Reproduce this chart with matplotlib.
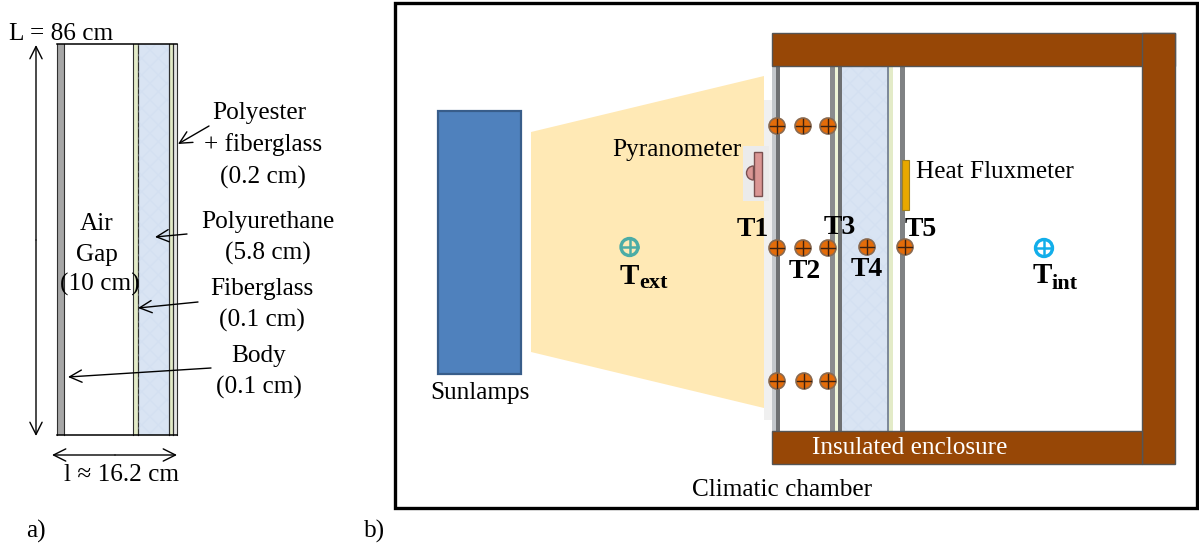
import matplotlib
matplotlib.use("Agg")
import matplotlib.pyplot as plt
from matplotlib.patches import Rectangle, Polygon, Ellipse, Wedge

W, H = 1199, 544
SERIF = "Liberation Serif"
FS = 18.2

# Left panel: wall layers as (x0, x1, fill)
left_top, left_bottom = 44, 435
left_layers = [(57, 63.5, "#A6A6A6"), (132.5, 137.5, "#E3EBC8"), (137.5, 169, "#D9E4F3"),
               (169, 173, "#E3EBC8"), (173, 177, "#E6E6E6")]
left_texts = [("L = 86 cm", 61, 32), ("Polyester", 259, 111), ("+ fiberglass", 263, 143),
              ("(0.2 cm)", 263, 175), ("Polyurethane", 268, 220), ("(5.8 cm)", 268, 251),
              ("Air", 97, 222), ("Gap", 97, 253), ("(10 cm)", 100, 282),
              ("Fiberglass", 262, 287), ("(0.1 cm)", 262, 318), ("Body", 259, 354),
              ("(0.1 cm)", 259, 385), ("l ≈ 16.2 cm", 121, 473), ("a)", 36, 529), ("b)", 375, 529)]
left_arrows = [((209, 126), (178, 144)), ((187, 234), (155, 237)),
               ((198, 302), (138, 308)), ((211, 368), (68, 377))]

# Right panel
right_texts = [("Pyranometer", 677, 148), ("Heat Fluxmeter", 995, 170), ("Sunlamps", 480, 391),
               ("Climatic chamber", 782, 488)]
sensor_x = [777, 803, 828, 777, 803, 828, 867, 905, 777, 804, 828]
sensor_y = [126, 126, 126, 248, 248, 248, 247, 247, 381, 381, 381]
t_labels = [("T1", 753, 228), ("T2", 805, 271), ("T3", 840, 227), ("T4", 867, 269), ("T5", 921, 229)]
wall_layers = [(772, 776, "#C4C8CC"), (776, 779.5, "#6E7072"), (830, 835, "#8A8C8E"),
               (835, 838, "#EEF5D8"), (838, 841.5, "#6E7072"), (841.5, 887, "#D9E4F3"),
               (887, 888.5, "#7E8A9A"), (888.5, 893, "#E3EBC8"), (900, 904.5, "#808284")]

fig = plt.figure(figsize=(W / 100, H / 100), dpi=100)
ax = fig.add_axes([0, 0, 1, 1])
ax.set_xlim(0, W)
ax.set_ylim(H, 0)
ax.axis("off")


def rect(x0, y0, x1, y1, fc, ec="none", lw=0, z=1, **kw):
    ax.add_patch(Rectangle((x0, y0), x1 - x0, y1 - y0, fc=fc, ec=ec, lw=lw, zorder=z, **kw))


def arrow(start, end, style="->"):
    ax.annotate("", xy=end, xytext=start, zorder=6,
                arrowprops=dict(arrowstyle=style, color="black", lw=1.0, mutation_scale=22,
                                shrinkA=0, shrinkB=0))


def sensor(x, y, fc, lc, ec, r=8, z=7):
    ax.add_patch(Ellipse((x, y), 2 * r, 2 * r, fc=fc, ec=ec, lw=1.2, zorder=z))
    ax.plot([x - r + 1, x + r - 1], [y, y], color=lc, lw=1, zorder=z + 1)
    ax.plot([x, x], [y - r + 1, y + r - 1], color=lc, lw=1, zorder=z + 1)


def ring_sensor(x, y, colour, inner):
    ax.add_patch(Ellipse((x, y), 17, 17, fc=inner, ec=colour, lw=2.4, zorder=7))
    ax.plot([x - 8, x + 8], [y, y], color=colour, lw=1.8, zorder=8)
    ax.plot([x, x], [y - 8, y + 8], color=colour, lw=1.8, zorder=8)


# --- Panel a ---
for x0, x1, c in left_layers:
    rect(x0, left_top, x1, left_bottom, c)
    for x in (x0, x1):
        ax.plot([x, x], [left_top, left_bottom], color="#303030", lw=0.8, zorder=2)
rect(137.5, left_top, 169, left_bottom, "none", ec="#C9D8EF", lw=0, z=2, hatch="xx", alpha=0.3)
ax.plot([57, 177], [left_top, left_top], color="black", lw=1.1, zorder=3)
ax.plot([57, 177], [left_bottom, left_bottom], color="black", lw=1.1, zorder=3)
arrow((36, 240), (36, 45))
arrow((36, 240), (36, 436))
arrow((115, 455), (52, 455))
arrow((115, 455), (177, 455))
for s, e in left_arrows:
    arrow(s, e)
for s, x, y in left_texts:
    ax.text(x, y + 2, s, family=SERIF, fontsize=FS, ha="center", va="center", zorder=8)

# --- Panel b ---
rect(395, 3, 1197, 508, "none", ec="black", lw=2.4, z=9)
ax.add_patch(Polygon([(531, 132), (764, 76), (764, 408), (531, 352)], closed=True,
                     fc="#FFE9B5", ec="none", zorder=1))
rect(764, 100, 772, 420, "#F0F0F0", z=1)
rect(438, 111, 521, 374, "#4F81BD", ec="#385D8A", lw=1.6, z=2)

for x0, x1, c in wall_layers:
    rect(x0, 66, x1, 431, c, z=2)
rect(841.5, 66, 887, 431, "none", ec="#C9D8EF", lw=0, z=3, hatch="xx", alpha=0.3)

brown = "#974706"
rect(772, 33, 1175, 66, brown, ec="#555555", lw=1, z=4)
rect(1142, 33, 1175, 464, brown, ec="#555555", lw=1, z=4)
rect(772, 431, 1142, 464, brown, ec="#555555", lw=1, z=4)
ax.text(910, 448, "Insulated enclosure", family=SERIF, fontsize=FS, color="white",
        ha="center", va="center", zorder=8)

# Pyranometer
rect(743, 146, 769, 201, "#EBEBEB", z=3)
ax.add_patch(Wedge((753.5, 173), 7, 90, 270, fc="#DA9694", ec="#7A5050", lw=1, zorder=4))
rect(753.5, 152, 762, 196, "#DA9694", ec="#7A5050", lw=1, z=5)
# Heat fluxmeter
rect(902, 160, 909, 210, "#E8A800", ec="#A08020", lw=0.8, z=4)

for x, y in zip(sensor_x, sensor_y):
    sensor(x, y, "#E36C0A", "#3A2010", "#8A6A50")
ring_sensor(629.5, 247, "#4BACA6", "#FFE9B5")
ring_sensor(1044, 248, "#12AEEA", "white")

for s, x, y in right_texts:
    ax.text(x, y + 2, s, family=SERIF, fontsize=FS, ha="center", va="center", zorder=8)
for s, x, y in t_labels:
    ax.text(x, y + 1, s, family=SERIF, fontsize=20, weight="bold", ha="center", va="center", zorder=8)
ax.text(620, 284, "T", family=SERIF, fontsize=21, weight="bold", ha="left", va="baseline", zorder=8)
ax.text(639, 288, "ext", family=SERIF, fontsize=16, weight="bold", ha="left", va="baseline", zorder=8)
ax.text(1033, 283, "T", family=SERIF, fontsize=21, weight="bold", ha="left", va="baseline", zorder=8)
ax.text(1052, 289, "int", family=SERIF, fontsize=16, weight="bold", ha="left", va="baseline", zorder=8)

fig.savefig("out.png", dpi=100)
